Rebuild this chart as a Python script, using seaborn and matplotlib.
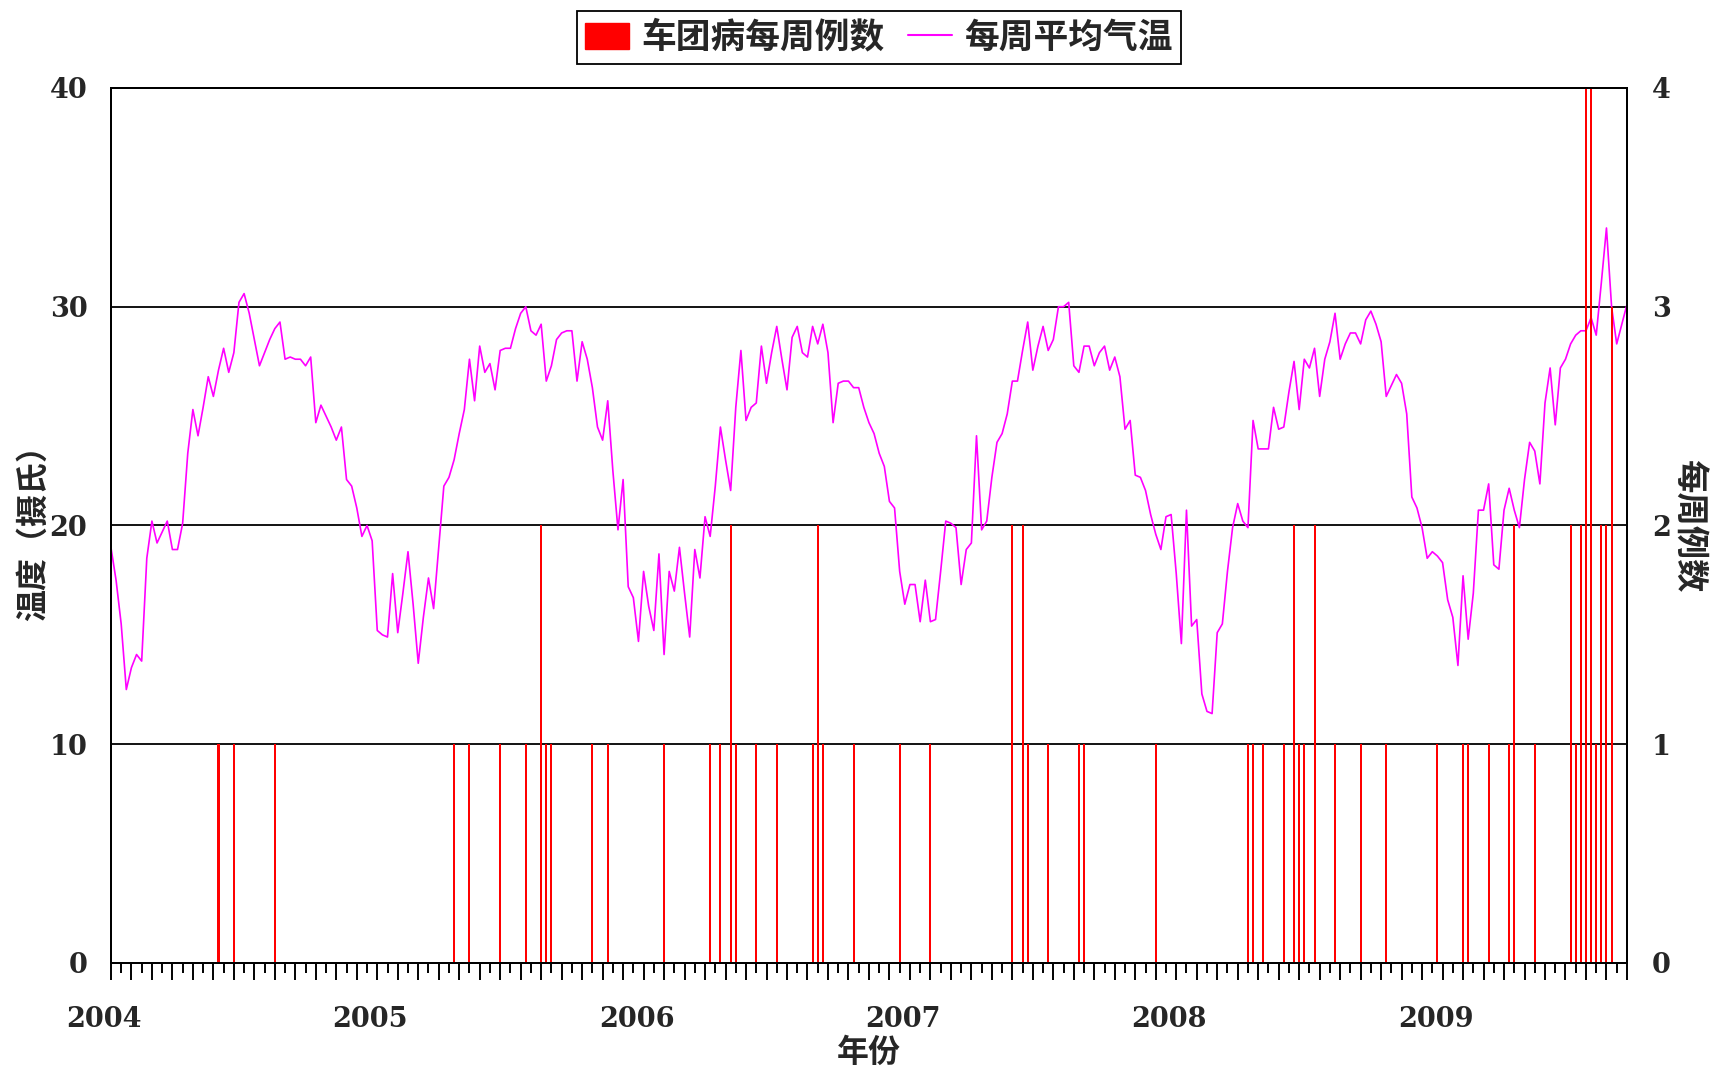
import numpy as np
import matplotlib
matplotlib.use('Agg')
import matplotlib.pyplot as plt
import matplotlib.transforms as mtransforms
from matplotlib.patches import Patch
from matplotlib.lines import Line2D
import seaborn as sns

# Weekly mean temperature, 2004 week 1 onward
temps = [
    19.0, 17.5, 15.5, 12.5, 13.5, 14.1, 13.8, 18.5, 20.2, 19.2, 19.7, 20.2, 18.9,
    18.9, 20.1, 23.3, 25.3, 24.1, 25.4, 26.8, 25.9, 27.1, 28.1, 27.0, 27.9, 30.2,
    30.6, 29.7, 28.5, 27.3, 27.9, 28.5, 29.0, 29.3, 27.6, 27.7, 27.6, 27.6, 27.3,
    27.7, 24.7, 25.5, 25.0, 24.5, 23.9, 24.5, 22.1, 21.8, 20.8, 19.5, 20.0, 19.3,
    15.2, 15.0, 14.9, 17.8, 15.1, 16.9, 18.8, 16.4, 13.7, 15.8, 17.6, 16.2, 19.0,
    21.8, 22.2, 23.0, 24.2, 25.3, 27.6, 25.7, 28.2, 27.0, 27.4, 26.2, 28.0, 28.1,
    28.1, 29.0, 29.7, 30.0, 28.9, 28.7, 29.2, 26.6, 27.3, 28.5, 28.8, 28.9, 28.9,
    26.6, 28.4, 27.6, 26.3, 24.5, 23.9, 25.7, 22.5, 19.8, 22.1, 17.2, 16.7, 14.7,
    17.9, 16.3, 15.2, 18.7, 14.1, 17.9, 17.0, 19.0, 16.9, 14.9, 18.9, 17.6, 20.4,
    19.5, 21.8, 24.5, 23.0, 21.6, 25.4, 28.0, 24.8, 25.4, 25.6, 28.2, 26.5, 27.9,
    29.1, 27.6, 26.2, 28.6, 29.1, 27.9, 27.7, 29.1, 28.3, 29.2, 27.9, 24.7, 26.5,
    26.6, 26.6, 26.3, 26.3, 25.4, 24.7, 24.2, 23.3, 22.7, 21.1, 20.8, 17.9, 16.4,
    17.3, 17.3, 15.6, 17.5, 15.6, 15.7, 17.9, 20.2, 20.1, 19.9, 17.3, 18.9, 19.2,
    24.1, 19.8, 20.2, 22.2, 23.8, 24.2, 25.1, 26.6, 26.6, 28.0, 29.3, 27.1, 28.2,
    29.1, 28.0, 28.5, 30.0, 30.0, 30.2, 27.3, 27.0, 28.2, 28.2, 27.3, 27.9, 28.2,
    27.1, 27.7, 26.8, 24.4, 24.8, 22.3, 22.2, 21.6, 20.5, 19.6, 18.9, 20.4, 20.5,
    17.8, 14.6, 20.7, 15.4, 15.7, 12.3, 11.5, 11.4, 15.1, 15.5, 17.9, 19.9, 21.0,
    20.2, 19.9, 24.8, 23.5, 23.5, 23.5, 25.4, 24.4, 24.5, 26.1, 27.5, 25.3, 27.6,
    27.2, 28.1, 25.9, 27.6, 28.4, 29.7, 27.6, 28.3, 28.8, 28.8, 28.3, 29.4, 29.8,
    29.2, 28.4, 25.9, 26.4, 26.9, 26.5, 25.1, 21.3, 20.8, 19.9, 18.5, 18.8, 18.6,
    18.3, 16.6, 15.8, 13.6, 17.7, 14.8, 16.9, 20.7, 20.7, 21.9, 18.2, 18.0, 20.7,
    21.7, 20.7, 19.9, 22.1, 23.8, 23.4, 21.9, 25.6, 27.2, 24.6, 27.2, 27.6, 28.3,
    28.7, 28.9, 28.9, 29.5, 28.7, 31.1, 33.6, 30.0, 28.3, 29.2, 30.1,
]

# Weeks (index from 2004 week 1) with cases, and the weekly case counts
case_weeks = [21, 24, 32, 67, 70, 76, 81, 84, 85, 86, 94, 97, 108,
              117, 119, 121, 122, 126, 130, 137, 138, 139, 145, 154, 160,
              176, 178, 179, 183, 189, 190, 204,
              222, 223, 225, 229, 231, 232, 233, 235, 239, 244, 249, 259,
              264, 265, 269, 273, 274, 278,
              285, 286, 287, 288, 289, 290, 291, 292, 293]
case_counts = [1, 1, 1, 1, 1, 1, 1, 2, 1, 1, 1, 1, 1,
               1, 1, 2, 1, 1, 1, 1, 2, 1, 1, 1, 1,
               2, 2, 1, 1, 1, 1, 1,
               1, 1, 1, 1, 2, 1, 1, 2, 1, 1, 1, 1,
               1, 1, 1, 1, 2, 1,
               2, 1, 2, 4, 4, 1, 2, 2, 3]

years = ['2004', '2005', '2006', '2007', '2008', '2009']
year_weeks = [0, 52, 104, 156, 208, 260]

sns.set_style('white')
plt.rcParams['font.family'] = ['Noto Sans CJK SC', 'DejaVu Sans']
num_font = dict(family='DejaVu Serif', weight='bold', size=19.5)
cjk = ['Noto Sans CJK SC', 'DejaVu Sans']

weeks = np.arange(len(temps))

fig = plt.figure(figsize=(17.2, 10.69), dpi=100)
ax = fig.add_axes([0.0645, 0.0992, 0.8814, 0.8185])

sns.lineplot(x=weeks, y=temps, ax=ax, color='#FF00FF', linewidth=1.2)
ax.set_ylim(0, 40)
ax.set_xlim(0, len(temps) - 1)
ax.set_yticks([0, 10, 20, 30, 40])
ax.set_yticklabels(['0', '10', '20', '30', '40'], fontdict=num_font)
ax.yaxis.grid(True, color='black', linewidth=1.3)
ax.tick_params(axis='y', length=0, pad=17)

# x axis: long ticks every 4 weeks, short ones between, year labels
ax.set_xticks(range(0, len(temps), 4))
ax.set_xticklabels([years[year_weeks.index(w)] if w in year_weeks else ''
                    for w in range(0, len(temps), 4)], fontdict=num_font)
ax.set_xticks(range(2, len(temps), 4), minor=True)
ax.tick_params(axis='x', which='major', length=12, width=1.4, color='black',
               direction='out', pad=19, bottom=True)
ax.tick_params(axis='x', which='minor', length=7, width=1.4, color='black',
               direction='out', bottom=True)
shift = mtransforms.ScaledTranslation(-7 / 100, 0, fig.dpi_scale_trans)
for lab in ax.get_xticklabels():
    lab.set_transform(lab.get_transform() + shift)
ax.set_xlabel('年份', family=cjk, fontsize=23, weight='bold', labelpad=3)
ax.set_ylabel('温度（摄氏）', family=cjk, fontsize=23, weight='bold', labelpad=0)

ax2 = ax.twinx()
ax2.bar(case_weeks, case_counts, width=0.4, color='red', linewidth=0)
ax2.set_ylim(0, 4)
ax2.set_xlim(0, len(temps) - 1)
ax2.set_yticks([0, 1, 2, 3, 4])
ax2.set_yticklabels(['0', '1', '2', '3', '4'], fontdict=num_font)
ax2.tick_params(axis='y', length=0, pad=18)
ax2.set_ylabel('每周例数', family=cjk, fontsize=24, weight='bold',
               rotation=270, labelpad=24)

for a in (ax, ax2):
    for s in a.spines.values():
        s.set_color('black')
        s.set_linewidth(1.4)

handles = [Patch(facecolor='red', edgecolor='red'),
           Line2D([0], [0], color='#FF00FF', linewidth=1.5)]
leg = fig.legend(handles, ['车团病每周例数', '每周平均气温'], loc='center',
                 bbox_to_anchor=(0.511, 0.965), ncol=2, frameon=True,
                 fancybox=False, edgecolor='black', framealpha=1,
                 handlelength=1.25, handleheight=0.8, handletextpad=0.35,
                 columnspacing=0.7, borderpad=0.25,
                 prop=dict(family=cjk, size=25, weight='bold'))
leg.get_frame().set_linewidth(1.3)

fig.savefig('out.png', dpi=100)
